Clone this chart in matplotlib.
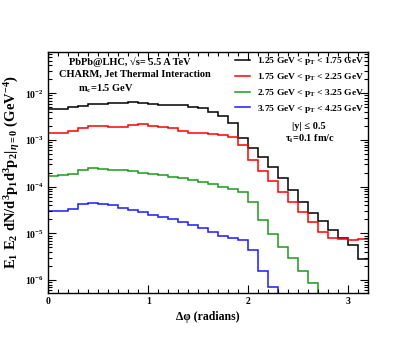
import numpy as np
import matplotlib
matplotlib.use('Agg')
from matplotlib import pyplot as plt
from matplotlib.ticker import MultipleLocator, LogLocator, NullFormatter

plt.rcParams['font.family'] = ['Liberation Serif', 'DejaVu Serif']
plt.rcParams['font.weight'] = 'bold'
plt.rcParams['mathtext.fontset'] = 'custom'
plt.rcParams['mathtext.rm'] = 'Liberation Serif:bold'
plt.rcParams['mathtext.it'] = 'Liberation Serif:italic:bold'
plt.rcParams['mathtext.bf'] = 'Liberation Serif:bold'

# ----------------------------------------------------------------------------
# DATA, bins of 0.1 rad from 0 to 3.2
edges = np.round(np.arange(0, 3.21, 0.1), 2)

black = [4.6e-3, 4.6e-3, 5.0e-3, 5.4e-3, 5.9e-3, 5.9e-3, 6.1e-3, 6.1e-3,
         6.4e-3, 6.35e-3, 5.9e-3, 5.5e-3, 5.5e-3, 5.5e-3, 5.2e-3, 4.8e-3,
         4.0e-3, 3.2e-3, 2.3e-3, 1.1e-3, 6.9e-4, 4.4e-4, 2.64e-4, 1.53e-4,
         8.4e-5, 4.6e-5, 2.7e-5, 1.8e-5, 1.16e-5, 7.9e-6, 5.6e-6, 2.8e-6]
red = [1.39e-3, 1.43e-3, 1.58e-3, 1.78e-3, 2.0e-3, 2.0e-3, 1.93e-3, 1.93e-3,
       2.1e-3, 2.17e-3, 2.02e-3, 1.93e-3, 1.78e-3, 1.58e-3, 1.43e-3, 1.39e-3,
       1.32e-3, 1.28e-3, 1.14e-3, 7.8e-4, 3.67e-4, 2.2e-4, 1.32e-4, 7.7e-5,
       4.8e-5, 2.9e-5, 1.73e-5, 1.06e-5, 7.9e-6, 7.5e-6, 7.2e-6, 7.6e-6]
green = [1.69e-4, 1.75e-4, 1.87e-4, 2.28e-4, 2.48e-4, 2.39e-4, 2.31e-4, 2.28e-4,
         2.14e-4, 2.0e-4, 1.87e-4, 1.75e-4, 1.64e-4, 1.51e-4, 1.39e-4, 1.26e-4,
         1.12e-4, 1.0e-4, 8.9e-5, 7.8e-5, 4.8e-5, 1.94e-5, 9.6e-6, 5.2e-6,
         2.9e-6, 1.59e-6, 8.8e-7, 0, 0, 0, 0, 0]
blue = [3.0e-5, 3.06e-5, 3.38e-5, 4.2e-5, 4.4e-5, 4.26e-5, 4.06e-5, 3.55e-5,
        3.17e-5, 2.83e-5, 2.5e-5, 2.2e-5, 2.0e-5, 1.78e-5, 1.51e-5, 1.29e-5,
        1.09e-5, 8.8e-6, 7.9e-6, 7.2e-6, 4.5e-6, 1.59e-6, 7.2e-7, 0,
        0, 0, 0, 0, 0, 0, 0, 0]

labels = ['1.25 GeV < p$_{\\rm T}$ < 1.75 GeV',
          '1.75 GeV < p$_{\\rm T}$ < 2.25 GeV',
          '2.75 GeV < p$_{\\rm T}$ < 3.25 GeV',
          '3.75 GeV < p$_{\\rm T}$ < 4.25 GeV']
colors = ['black', 'red', '#1a9a1a', '#1a1aff']
# ----------------------------------------------------------------------------

fig = plt.figure(figsize=(4.15, 3.46), dpi=100)
ax = fig.add_axes([0.1164, 0.1523, 0.7711, 0.6983])

for vals, lab, col in zip([black, red, green, blue], labels, colors):
    ax.stairs(vals, edges, baseline=None, color=col, lw=1.1, label=lab)

ax.set_yscale('log')
ax.set_xlim(0, 3.2)
ax.set_ylim(5.2e-7, 7.8e-2)

ax.xaxis.set_major_locator(MultipleLocator(1))
ax.xaxis.set_minor_locator(MultipleLocator(0.1))
ax.yaxis.set_major_locator(LogLocator(base=10, numticks=20))
ax.yaxis.set_minor_locator(LogLocator(base=10, subs=np.arange(2, 10), numticks=20))
ax.yaxis.set_minor_formatter(NullFormatter())
ax.tick_params(which='both', direction='in', top=True, right=True,
               labelsize=7, width=0.8)
ax.tick_params(which='major', length=6, pad=3)
ax.tick_params(which='minor', length=3)
for sp in ax.spines.values():
    sp.set_linewidth(1.0)

ax.set_xlabel('\u0394\u03c6 (radians)', fontsize=8.5, fontweight='bold', labelpad=3)
ax.set_ylabel('E$_1$ E$_2$ dN/d$^3$p$_1$d$^3$p$_2$|$_{\\eta=0}$ (GeV$^{-4}$)',
              fontsize=10.5, fontweight='bold', labelpad=2)

ax.text(0.255, 0.957, 'PbPb@LHC, \u221as= 5.5 A TeV', transform=ax.transAxes,
        ha='center', va='center', fontsize=7.5, fontweight='bold')
ax.text(0.27, 0.905, 'CHARM, Jet Thermal Interaction', transform=ax.transAxes,
        ha='center', va='center', fontsize=7.5, fontweight='bold')
ax.text(0.18, 0.845, 'm$_{\\rm c}$=1.5 GeV', transform=ax.transAxes,
        ha='center', va='center', fontsize=7.5, fontweight='bold')
ax.text(0.814, 0.689, '|y| \u2264 0.5', transform=ax.transAxes,
        ha='center', va='center', fontsize=7.5, fontweight='bold')
ax.text(0.818, 0.639, '\u03c4$_{\\rm i}$=0.1 fm/c', transform=ax.transAxes,
        ha='center', va='center', fontsize=7.5, fontweight='bold')

leg = ax.legend(loc='upper left', bbox_to_anchor=(0.583, 0.985), frameon=False,
                fontsize=6.8, handlelength=1.6, handletextpad=0.75,
                borderpad=0, borderaxespad=0, labelspacing=0.4)

fig.savefig('out.png', dpi=100)
